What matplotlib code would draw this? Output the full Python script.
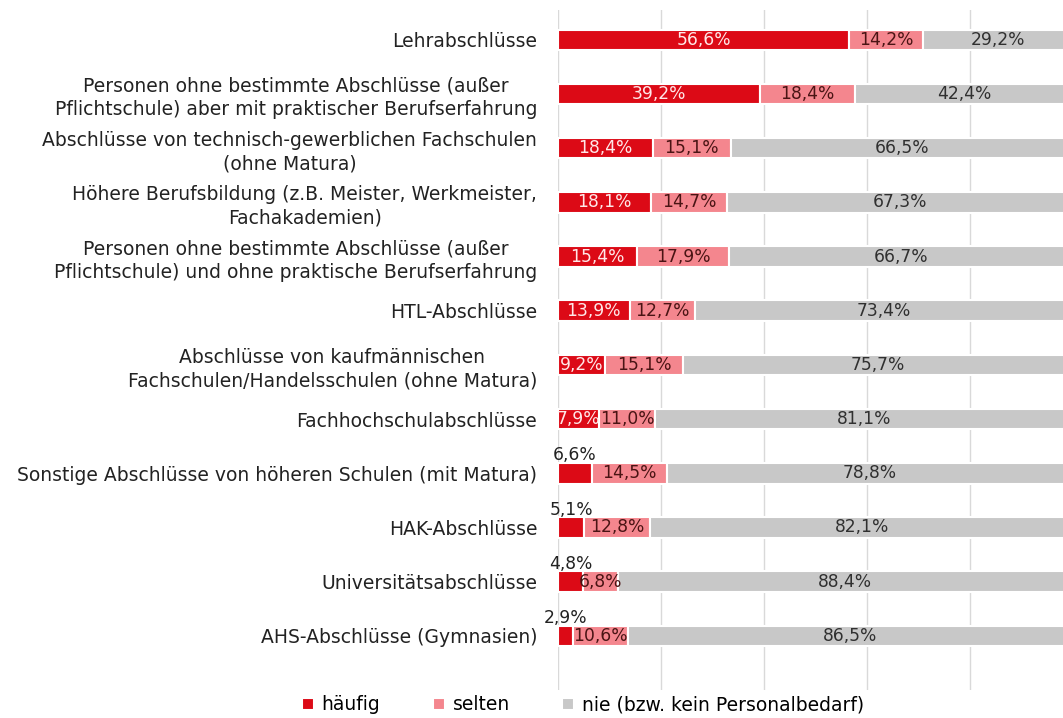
import numpy as np
import matplotlib
matplotlib.use("Agg")
import matplotlib.pyplot as plt

kategorien = [
    "Lehrabschlüsse",
    "Personen ohne bestimmte Abschlüsse (außer\nPflichtschule) aber mit praktischer Berufserfahrung",
    "Abschlüsse von technisch-gewerblichen Fachschulen\n(ohne Matura)",
    "Höhere Berufsbildung (z.B. Meister, Werkmeister,\nFachakademien)",
    "Personen ohne bestimmte Abschlüsse (außer\nPflichtschule) und ohne praktische Berufserfahrung",
    "HTL-Abschlüsse",
    "Abschlüsse von kaufmännischen\nFachschulen/Handelsschulen (ohne Matura)",
    "Fachhochschulabschlüsse",
    "Sonstige Abschlüsse von höheren Schulen (mit Matura)",
    "HAK-Abschlüsse",
    "Universitätsabschlüsse",
    "AHS-Abschlüsse (Gymnasien)",
]
haeufig = [56.6, 39.2, 18.4, 18.1, 15.4, 13.9, 9.2, 7.9, 6.6, 5.1, 4.8, 2.9]
selten = [14.2, 18.4, 15.1, 14.7, 17.9, 12.7, 15.1, 11.0, 14.5, 12.8, 6.8, 10.6]
nie = [29.2, 42.4, 66.5, 67.3, 66.7, 73.4, 75.7, 81.1, 78.8, 82.1, 88.4, 86.5]
serien = ["häufig", "selten", "nie (bzw. kein Personalbedarf)"]

farben = ["#dc0a16", "#f4868e", "#c8c8c8"]
textfarben = ["#ffe8e8", "#4a1414", "#303030"]

plt.rcParams["font.family"] = ["DejaVu Sans"]

fig = plt.figure(figsize=(10.63, 7.18), dpi=100)
# Achse reicht rechts über das Bild hinaus (Original ist abgeschnitten)
ax = fig.add_axes([558 / 1063, 28 / 718, 515 / 1063, 680 / 718])

y = np.arange(len(kategorien))
werte = [np.array(haeufig), np.array(selten), np.array(nie)]
links = np.zeros(len(kategorien))
for i, (w, name) in enumerate(zip(werte, serien)):
    ax.barh(y, w, left=links, height=0.38, color=farben[i], edgecolor="white",
            linewidth=1.5, label=name, zorder=3)
    for j in range(len(w)):
        txt = f"{w[j]:.1f}%".replace(".", ",")
        if i == 0 and w[j] < 7:
            ax.text(links[j] + w[j] / 2, y[j] - 0.33, txt, ha="center", va="center",
                    fontsize=12.3, color="#222222", zorder=4)
        else:
            ax.text(links[j] + w[j] / 2, y[j], txt, ha="center", va="center",
                    fontsize=12.3, color=textfarben[i], zorder=4)
    links = links + w

ax.set_xlim(0, 100)
ax.set_ylim(len(kategorien) - 1 + 1.0, -0.55)
ax.set_yticks(y)
ax.set_yticklabels(kategorien, fontsize=13.5, color="#222222", multialignment="center",
                   linespacing=1.3)
ax.tick_params(axis="y", length=0, pad=15)
ax.set_xticks([0, 20, 40, 60, 80, 100])
ax.tick_params(axis="x", length=0, labelbottom=False)
ax.grid(axis="x", color="#d9d9d9", linewidth=1, zorder=0)
for s in ax.spines.values():
    s.set_visible(False)

fig.legend(loc="center", bbox_to_anchor=(583 / 1063, 1 - 705 / 718), ncol=3, frameon=False,
           fontsize=13.5, handlelength=0.65, handleheight=0.65, handletextpad=0.4,
           columnspacing=2.8)

fig.savefig("out.png", dpi=100)
